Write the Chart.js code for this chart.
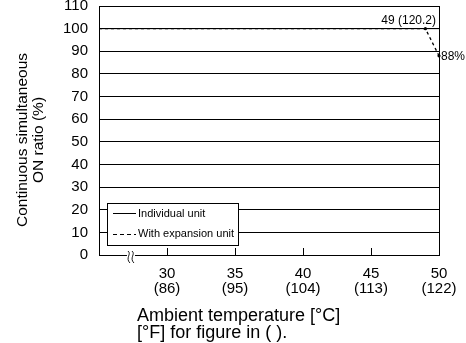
<!DOCTYPE html>
<html>
<head>
<meta charset="utf-8">
<script src="https://cdn.jsdelivr.net/npm/chart.js@4"></script>
<style>
  html, body { margin: 0; padding: 0; background: #fff; }
  #wrap { width: 466px; height: 343px; }
</style>
</head>
<body>
<div id="wrap"><canvas id="c" width="466" height="343"></canvas></div>
<script>
// Values
const temps = [25, 49, 50];              // ambient temperature, deg C
const individualUnit = [100, 100, 100];  // %
const withExpansion = [100, 100, 88];    // %
const xTicksC = [30, 35, 40, 45, 50];
const xTicksF = ['(86)', '(95)', '(104)', '(113)', '(122)'];
const yTicks = [0, 10, 20, 30, 40, 50, 60, 70, 80, 90, 100, 110];

const FONT = '"Liberation Sans", Arial, sans-serif';

// frame, tick marks, axis break, legend box, titles, annotations
const decorPlugin = {
  id: 'decor',
  afterDraw(chart) {
    const { ctx, chartArea: a, scales: { x, y } } = chart;
    ctx.save();
    ctx.strokeStyle = '#000';
    ctx.lineWidth = 1;
    ctx.strokeRect(Math.round(a.left) + 0.5, Math.round(a.top) + 0.5,
      Math.round(a.right - a.left), Math.round(a.bottom - a.top));

    // small inward ticks on the x axis
    xTicksC.slice(0, 4).forEach(v => {
      const px = Math.round(x.getPixelForValue(v)) + 0.5;
      ctx.beginPath();
      ctx.moveTo(px, a.bottom);
      ctx.lineTo(px, a.bottom - 7);
      ctx.stroke();
    });

    // axis break mark
    const bx = x.getPixelForValue(27.35);
    ctx.fillStyle = '#fff';
    ctx.fillRect(bx - 4, a.bottom - 1, 8, 3);
    ctx.lineWidth = 0.9;
    [-2, 2].forEach(dx => {
      ctx.beginPath();
      ctx.moveTo(bx + dx - 1, a.bottom - 4);
      ctx.bezierCurveTo(bx + dx + 3, a.bottom - 1, bx + dx - 4, a.bottom + 3, bx + dx + 1, a.bottom + 8);
      ctx.stroke();
    });

    // legend
    const lx = 107.5, ly = 203.5, lw = 131, lh = 42;
    ctx.fillStyle = '#fff';
    ctx.fillRect(lx, ly, lw, lh);
    ctx.lineWidth = 1;
    ctx.strokeRect(lx, ly, lw, lh);
    ctx.beginPath();
    ctx.moveTo(113, 213.5); ctx.lineTo(136, 213.5);
    ctx.stroke();
    ctx.setLineDash([4, 3]);
    ctx.beginPath();
    ctx.moveTo(113, 234.5); ctx.lineTo(136, 234.5);
    ctx.stroke();
    ctx.setLineDash([]);
    ctx.fillStyle = '#000';
    ctx.font = '11px ' + FONT;
    ctx.textBaseline = 'middle';
    ctx.textAlign = 'left';
    ctx.fillText('Individual unit', 138, 213.5);
    ctx.fillText('With expansion unit', 138, 234);

    // annotations at the knee
    ctx.font = '12px ' + FONT;
    ctx.textAlign = 'right';
    ctx.textBaseline = 'alphabetic';
    ctx.fillText('49 (120.2)', 436, 24);
    ctx.textAlign = 'left';
    ctx.textBaseline = 'middle';
    ctx.fillText('88%', x.getPixelForValue(50) + 2, y.getPixelForValue(88) + 1);

    // axis titles
    ctx.font = '18px ' + FONT;
    ctx.textAlign = 'left';
    ctx.textBaseline = 'alphabetic';
    ctx.fillText('Ambient temperature [\u00b0C]', 137, 321);
    ctx.fillText('[\u00b0F] for figure in ( ).', 137, 338);

    ctx.font = '15.5px ' + FONT;
    ctx.translate(0, 140);
    ctx.rotate(-Math.PI / 2);
    ctx.textAlign = 'center';
    ctx.fillText('Continuous simultaneous', 0, 27);
    ctx.fillText('ON ratio (%)', 0, 43);
    ctx.restore();
  }
};

new Chart(document.getElementById('c'), {
  type: 'line',
  data: {
    datasets: [{
      label: 'Individual unit',
      data: temps.map((t, i) => ({ x: t, y: individualUnit[i] })),
      borderColor: '#000',
      borderWidth: 1,
      pointRadius: 0,
    }, {
      label: 'With expansion unit',
      data: temps.map((t, i) => ({ x: t, y: withExpansion[i] })),
      borderColor: '#000',
      borderWidth: 1.3,
      borderDash: [3, 3],
      pointRadius: [0, 1.6, 1.6],
      pointBackgroundColor: '#000',
      pointBorderWidth: 0,
    }],
  },
  options: {
    responsive: false,
    animation: false,
    clip: false,
    layout: { padding: { top: 6, right: 27, left: 0, bottom: 0 } },
    plugins: { legend: { display: false }, tooltip: { enabled: false } },
    scales: {
      x: {
        type: 'linear',
        min: 25,
        max: 50,
        afterBuildTicks: s => { s.ticks = xTicksC.map(v => ({ value: v })); },
        afterFit: s => { s.height = 88; s.paddingLeft = 0; s.paddingRight = 0; },
        grid: { display: false },
        border: { display: false },
        ticks: {
          color: '#000',
          font: { family: FONT, size: 15, lineHeight: 1.03 },
          padding: 3,
          maxRotation: 0,
          autoSkip: false,
          callback: v => [String(v), xTicksF[xTicksC.indexOf(v)]],
        },
      },
      y: {
        min: 0,
        max: 110,
        afterBuildTicks: s => { s.ticks = yTicks.map(v => ({ value: v })); },
        afterFit: s => { s.width = 99; s.paddingTop = 0; s.paddingBottom = 0; },
        grid: { color: '#000', lineWidth: 1, drawTicks: false },
        border: { display: false },
        ticks: {
          color: '#000',
          font: { family: FONT, size: 15, lineHeight: 1 },
          padding: 11,
        },
      },
    },
  },
  plugins: [decorPlugin],
});
</script>
</body>
</html>
